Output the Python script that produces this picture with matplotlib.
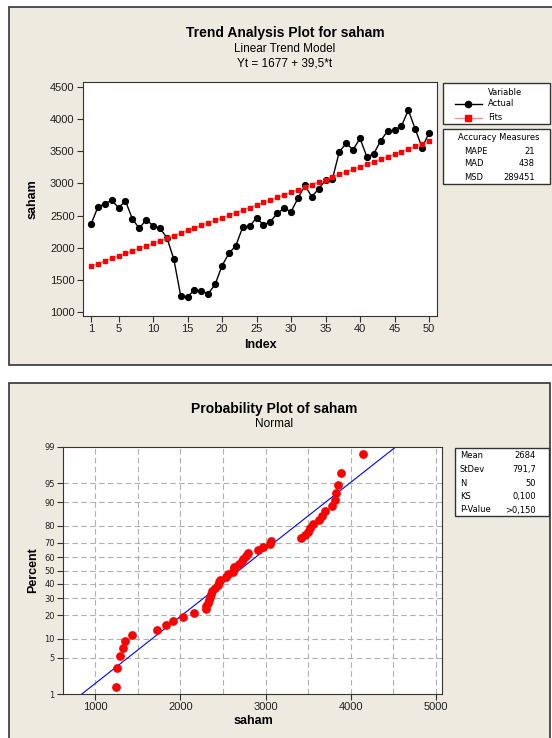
import matplotlib.pyplot as plt
from matplotlib.patches import Rectangle
from matplotlib.lines import Line2D
from statistics import NormalDist

plt.rcParams['font.family'] = ['Liberation Sans', 'DejaVu Sans']

W, H = 552, 738
BG = '#eeeae0'
EDGE = '#333333'
SMALL = dict(family='DejaVu Sans', fontsize=6)

# ---- data ----
index = list(range(1, 51))
saham = [2365, 2634, 2685, 2737, 2623, 2727, 2448, 2303, 2437, 2344,
         2303, 2158, 1827, 1258, 1243, 1346, 1331, 1290, 1434, 1724,
         1915, 2034, 2324, 2334, 2468, 2355, 2406, 2535, 2613, 2561,
         2768, 2970, 2794, 2913, 3052, 3068, 3492, 3621, 3523, 3699,
         3409, 3461, 3663, 3812, 3828, 3885, 4138, 3844, 3554, 3782]
# linear trend fits, Yt = 1677 + 39,5*t
fits = [1716.5, 1756, 1795.5, 1835, 1874.5, 1914, 1953.5, 1993, 2032.5, 2072,
        2111.5, 2151, 2190.5, 2230, 2269.5, 2309, 2348.5, 2388, 2427.5, 2467,
        2506.5, 2546, 2585.5, 2625, 2664.5, 2704, 2743.5, 2783, 2822.5, 2862,
        2901.5, 2941, 2980.5, 3020, 3059.5, 3099, 3138.5, 3178, 3217.5, 3257,
        3296.5, 3336, 3375.5, 3415, 3454.5, 3494, 3533.5, 3573, 3612.5, 3652]
index_ticks = [1, 5, 10, 15, 20, 25, 30, 35, 40, 45, 50]
saham_ticks = [1000, 1500, 2000, 2500, 3000, 3500, 4000, 4500]
accuracy = [('MAPE', '21'), ('MAD', '438'), ('MSD', '289451')]

pct_ticks = [1, 5, 10, 20, 30, 40, 50, 60, 70, 80, 90, 95, 99]
x_ticks = [1000, 2000, 3000, 4000, 5000]
x_grid = [1000, 1500, 2000, 2500, 3000, 3500, 4000, 4500, 5000]
mean_fit, sd_fit = 2684, 791.7
prob_stats = [('Mean', '2684'), ('StDev', '791,7'), ('N', '50'),
              ('KS', '0,100'), ('P-Value', '>0,150')]


def box(x0, y0, x1, y1):
    return [x0 / W, 1 - y1 / H, (x1 - x0) / W, (y1 - y0) / H]


def fx(x):
    return x / W


def fy(y):
    return 1 - y / H


def frame(x0, y0, x1, y1, fc, lw=1.2, z=-5):
    fig.patches.append(Rectangle((fx(x0), fy(y1)), (x1 - x0) / W, (y1 - y0) / H,
                                 transform=fig.transFigure, facecolor=fc,
                                 edgecolor=EDGE, lw=lw, zorder=z))


fig = plt.figure(figsize=(W / 100, H / 100), dpi=100)
fig.patch.set_facecolor('white')

# ---- top panel: trend analysis ----
frame(9, 7, 570, 365, BG)
fig.text(fx(285), fy(33), 'Trend Analysis Plot for saham', ha='center', va='center',
         fontsize=10, fontweight='bold')
fig.text(fx(285), fy(49), 'Linear Trend Model', ha='center', va='center', fontsize=8.5)
fig.text(fx(285), fy(63), 'Yt = 1677 + 39,5*t', ha='center', va='center', fontsize=8.5)

ax1 = fig.add_axes(box(83, 82, 437, 316))
ax1.plot(index, saham, color='black', marker='o', ms=4.2, lw=1)
ax1.plot(index, fits, color='#ff9090', lw=1, marker='s', ms=3.3, mfc='red', mec='red')
ax1.set_xlim(-0.16, 51.16)
ax1.set_ylim(943, 4573)
ax1.set_xticks(index_ticks)
ax1.set_yticks(saham_ticks)
ax1.tick_params(labelsize=8, length=4, pad=2, color=EDGE, labelcolor='#222222')
for s in ax1.spines.values():
    s.set_color(EDGE)
fig.text(fx(260), fy(345), 'Index', ha='center', va='center', fontsize=9, fontweight='bold')
fig.text(fx(33), fy(199), 'saham', ha='center', va='center', fontsize=9,
         fontweight='bold', rotation=90)

# legend boxes
frame(443, 83, 550, 124, 'white', lw=1, z=-1)
fig.text(fx(505), fy(92.5), 'Variable', ha='center', va='center', **SMALL)
fig.lines.append(Line2D([fx(455), fx(482)], [fy(104), fy(104)], transform=fig.transFigure,
                        color='black', lw=1))
fig.lines.append(Line2D([fx(468)], [fy(104)], transform=fig.transFigure,
                        color='black', marker='o', ms=4.5, lw=0))
fig.text(fx(488), fy(104), 'Actual', ha='left', va='center', **SMALL)
fig.lines.append(Line2D([fx(455), fx(482)], [fy(118), fy(118)], transform=fig.transFigure,
                        color='#ff9090', lw=1))
fig.lines.append(Line2D([fx(468)], [fy(118)], transform=fig.transFigure,
                        color='red', marker='s', ms=4, lw=0))
fig.text(fx(488), fy(118), 'Fits', ha='left', va='center', **SMALL)

frame(443, 129, 550, 184, 'white', lw=1, z=-1)
fig.text(fx(499), fy(137.5), 'Accuracy Measures', ha='center', va='center', **SMALL)
for i, (name, val) in enumerate(accuracy):
    y = 151 + i * 13
    fig.text(fx(464), fy(y), name, ha='left', va='center', **SMALL)
    fig.text(fx(535), fy(y), val, ha='right', va='center', **SMALL)

# ---- bottom panel: probability plot ----
frame(9, 383, 550, 760, BG)
fig.text(fx(274), fy(409), 'Probability Plot of saham', ha='center', va='center',
         fontsize=10, fontweight='bold')
fig.text(fx(274), fy(424), 'Normal', ha='center', va='center', fontsize=8.5)

nd = NormalDist()
n = len(saham)
xs = sorted(saham)
zs = [nd.inv_cdf((i + 1 - 0.3) / (n + 0.4)) for i in range(n)]
z_lo, z_hi = nd.inv_cdf(0.01), nd.inv_cdf(0.99)

ax2 = fig.add_axes(box(63, 447, 442, 694))
for g in x_grid:
    ax2.axvline(g, color='#b0b0b0', lw=0.8, ls=(0, (5, 3)), zorder=1)
for p in pct_ticks[1:-1]:
    ax2.axhline(nd.inv_cdf(p / 100), color='#b0b0b0', lw=0.8, ls=(0, (5, 3)), zorder=1)
ax2.plot([mean_fit + sd_fit * z_lo, mean_fit + sd_fit * z_hi], [z_lo, z_hi],
         color='blue', lw=0.8, zorder=2)
ax2.plot(xs, zs, 'o', color='red', ms=6.3, mec='none', zorder=3)
ax2.set_xlim(621, 5070)
ax2.set_ylim(z_lo, z_hi)
ax2.set_xticks(x_ticks)
ax2.set_yticks([nd.inv_cdf(p / 100) for p in pct_ticks])
ax2.set_yticklabels([str(p) for p in pct_ticks], family='DejaVu Sans', fontsize=6)
ax2.tick_params(axis='x', labelsize=8, length=4, pad=2, color=EDGE, labelcolor='#222222')
ax2.tick_params(axis='y', length=4, pad=2, color=EDGE, labelcolor='#222222')
for s in ax2.spines.values():
    s.set_color(EDGE)
fig.text(fx(253), fy(721), 'saham', ha='center', va='center', fontsize=9, fontweight='bold')
fig.text(fx(33), fy(570), 'Percent', ha='center', va='center', fontsize=9,
         fontweight='bold', rotation=90)

frame(455, 448, 549, 516, 'white', lw=1, z=-1)
for i, (name, val) in enumerate(prob_stats):
    y = 456 + i * 13.5
    fig.text(fx(460), fy(y), name, ha='left', va='center', **SMALL)
    fig.text(fx(536), fy(y), val, ha='right', va='center', **SMALL)

fig.savefig('out.png', dpi=100, facecolor='white')
